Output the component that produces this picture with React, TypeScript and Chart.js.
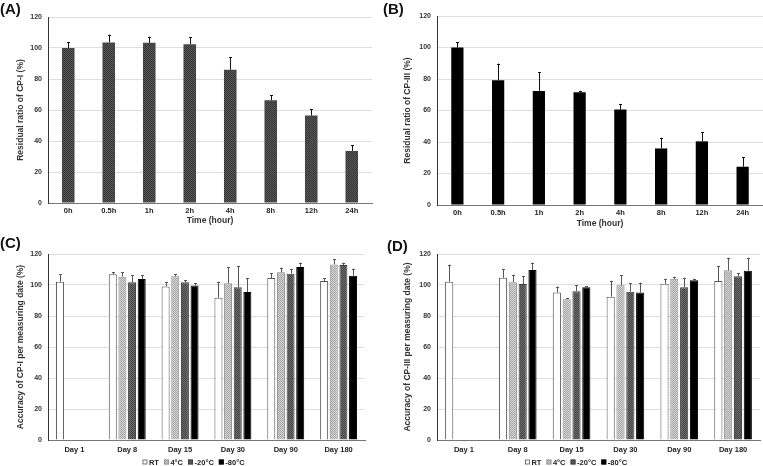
import React, { useEffect, useRef } from 'react';
import { Chart, registerables } from 'chart.js';
Chart.register(...registerables);

const FONT = "'Liberation Sans', Arial, sans-serif";

// ---- Data ----
const timeLabels = ['0h', '0.5h', '1h', '2h', '4h', '8h', '12h', '24h'];
const cp1Residual = [100, 103.6, 103.4, 102.5, 86, 66.3, 56.4, 33.6];
const cp1ResidualSD = [3.9, 5, 3.9, 4.3, 8.2, 3.1, 4.1, 3.6];
const cp3Residual = [100, 79.2, 72.4, 71.6, 60.6, 35.9, 40.4, 24.3];
const cp3ResidualSD = [3.4, 10.6, 11.8, 0.9, 3.6, 6.8, 5.9, 5.9];

const dayLabels = ['Day 1', 'Day 8', 'Day 15', 'Day 30', 'Day 90', 'Day 180'];
const seriesNames = ['RT', '4°C', '-20°C', '-80°C'];

const cp1RT = [102.1, 106.9, 99.1, 91.8, 104.5, 102.6];
const cp1RTSD = [5.0, 1.3, 2.6, 10.3, 3.2, 1.7];
const cp1C4 = [null, 105.4, 105.6, 101.1, 108.2, 113.3];
const cp1C4SD = [null, 2.8, 1.3, 10.3, 3.0, 3.3];
const cp1M20 = [null, 101.7, 101.7, 98.5, 107.3, 112.9];
const cp1M20SD = [null, 4.5, 1.5, 13.8, 2.8, 1.5];
const cp1M80 = [null, 103.9, 99.6, 95.5, 111.6, 106];
const cp1M80SD = [null, 2.6, 1.5, 8.8, 2.8, 4.5];

const cp3RT = [102.1, 104.7, 95.1, 92.5, 100.8, 102.6];
const cp3RTSD = [11, 5.4, 3.9, 10.3, 3.2, 9.7];
const cp3C4 = [null, 101.7, 90.8, 99.8, 104, 109.5];
const cp3C4SD = [null, 4.9, 0.6, 6.4, 1.4, 8.1];
const cp3M20 = [null, 100.6, 96, 95.7, 98.5, 105.6];
const cp3M20SD = [null, 5, 3.8, 5.4, 6.2, 1.9];
const cp3M80 = [null, 109.7, 98.5, 95.1, 103, 109.2];
const cp3M80SD = [null, 4.7, 0.9, 6.4, 1, 8.4];

const yTicksMax = 120;
const yTickStep = 20;

// ---- Helpers ----
function makePattern(ctx: CanvasRenderingContext2D, base: string, dot: string) {
  const c = document.createElement('canvas');
  c.width = 2;
  c.height = 2;
  const x = c.getContext('2d')!;
  x.fillStyle = base;
  x.fillRect(0, 0, 2, 2);
  x.fillStyle = dot;
  x.fillRect(0, 0, 1, 1);
  x.fillRect(1, 1, 1, 1);
  return ctx.createPattern(c, 'repeat') || base;
}

const errorBarPlugin = {
  id: 'errorBars',
  afterDatasetsDraw(chart: any) {
    const ctx = chart.ctx;
    const ys = chart.scales.y;
    chart.data.datasets.forEach((ds: any, i: number) => {
      const errs = ds.errors;
      if (!errs) return;
      const meta = chart.getDatasetMeta(i);
      meta.data.forEach((el: any, j: number) => {
        const v = ds.data[j];
        const e = errs[j];
        if (v == null || e == null) return;
        const top = ys.getPixelForValue(v + e);
        const x = Math.round(el.x) + 0.5;
        ctx.save();
        ctx.strokeStyle = ds.errorColor || '#222';
        ctx.lineWidth = 1;
        ctx.beginPath();
        ctx.moveTo(x, el.y);
        ctx.lineTo(x, top);
        ctx.moveTo(x - 1.5, Math.round(top) + 0.5);
        ctx.lineTo(x + 1.5, Math.round(top) + 0.5);
        ctx.stroke();
        ctx.restore();
      });
    });
  },
};

const legendPlugin = {
  id: 'customLegend',
  afterDraw(chart: any, _args: any, opts: any) {
    if (!opts || !opts.show) return;
    const ctx = chart.ctx;
    ctx.save();
    ctx.font = `bold 7.5px ${FONT}`;
    ctx.textBaseline = 'middle';
    const box = 5;
    const gapText = 1.5;
    const gapItem = 5;
    const items = chart.data.datasets.map((ds: any) => ({
      label: ds.label,
      fill: ds.backgroundColor,
      stroke: ds.borderColor,
      w: ctx.measureText(ds.label).width,
    }));
    let total = 0;
    items.forEach((it: any, i: number) => {
      total += box + gapText + it.w + (i < items.length - 1 ? gapItem : 0);
    });
    let x = opts.cx - total / 2;
    const cy = opts.cy;
    items.forEach((it: any) => {
      ctx.fillStyle = it.fill;
      ctx.fillRect(x, cy - box / 2, box, box);
      ctx.strokeStyle = it.stroke;
      ctx.lineWidth = 0.8;
      ctx.strokeRect(x + 0.5, cy - box / 2 + 0.5, box - 1, box - 1);
      ctx.fillStyle = '#222';
      ctx.fillText(it.label, x + box + gapText, cy + 0.5);
      x += box + gapText + it.w + gapItem;
    });
    ctx.restore();
  },
};

function yScale(title: string, width: number) {
  return {
    min: 0,
    max: yTicksMax,
    ticks: {
      stepSize: yTickStep,
      font: { family: FONT, size: 7, weight: 'bold' },
      color: '#333',
      padding: 6,
    },
    grid: { color: '#dedede', drawTicks: false, lineWidth: 1 },
    border: { display: true, color: '#333', width: 1 },
    title: {
      display: true,
      text: title,
      font: { family: FONT, size: 8.5, weight: 'bold' },
      color: '#333',
      padding: { top: 0, bottom: 0 },
    },
    afterFit: (s: any) => {
      s.width = width;
    },
  };
}

function xScale(height: number, title: string | null, pad: number) {
  return {
    ticks: {
      font: { family: FONT, size: 7.5, weight: 'bold' },
      color: '#222',
      padding: pad,
      autoSkip: false,
      maxRotation: 0,
    },
    grid: { display: false, drawTicks: false },
    border: { display: true, color: '#777', width: 1 },
    title: title
      ? {
          display: true,
          text: title,
          font: { family: FONT, size: 8.5, weight: 'bold' },
          color: '#333',
          padding: { top: 0, bottom: 0 },
        }
      : { display: false },
    afterFit: (s: any) => {
      s.height = height;
    },
  };
}

function timeConfig(ctx: CanvasRenderingContext2D, which: 'A' | 'B') {
  const isA = which === 'A';
  const fill = isA ? makePattern(ctx, '#555555', '#383838') : '#000000';
  return {
    type: 'bar',
    data: {
      labels: timeLabels,
      datasets: [
        {
          label: isA ? 'CP-I' : 'CP-III',
          data: isA ? cp1Residual : cp3Residual,
          errors: isA ? cp1ResidualSD : cp3ResidualSD,
          backgroundColor: fill,
          borderColor: isA ? '#333' : '#000',
          borderWidth: 0,
          barPercentage: isA ? 0.31 : 0.3,
          categoryPercentage: 1,
          errorColor: '#111',
        },
      ],
    },
    options: {
      responsive: false,
      animation: false,
      layout: isA
        ? { padding: { left: 16, right: 9, top: 17, bottom: 4 } }
        : { padding: { left: 20, right: 0, top: 16, bottom: 3 } },
      plugins: { legend: { display: false }, tooltip: { enabled: false } },
      scales: {
        x: xScale(isA ? 23 : 24, 'Time (hour)', 3),
        y: yScale(isA ? 'Residual ratio of CP-I (%)' : 'Residual ratio of CP-III (%)', isA ? 32 : 34),
      },
    },
    plugins: [errorBarPlugin],
  };
}

function dayConfig(ctx: CanvasRenderingContext2D, which: 'C' | 'D', canvasW: number) {
  const isC = which === 'C';
  const fills = [
    '#ffffff',
    makePattern(ctx, '#d2d2d2', '#a9a9a9'),
    makePattern(ctx, '#6a6a6a', '#474747'),
    '#000000',
  ];
  const borders = ['#555', '#8a8a8a', '#3a3a3a', '#000'];
  const vals = isC ? [cp1RT, cp1C4, cp1M20, cp1M80] : [cp3RT, cp3C4, cp3M20, cp3M80];
  const sds = isC ? [cp1RTSD, cp1C4SD, cp1M20SD, cp1M80SD] : [cp3RTSD, cp3C4SD, cp3M20SD, cp3M80SD];
  return {
    type: 'bar',
    data: {
      labels: dayLabels,
      datasets: seriesNames.map((name, i) => ({
        label: name,
        data: vals[i],
        errors: sds[i],
        backgroundColor: fills[i],
        borderColor: borders[i],
        borderWidth: 1,
        barPercentage: 0.83,
        categoryPercentage: 0.73,
        errorColor: '#555',
      })),
    },
    options: {
      responsive: false,
      animation: false,
      layout: isC
        ? { padding: { left: 16, right: 16, top: 22, bottom: 0 } }
        : { padding: { left: 20, right: 3, top: 22, bottom: 0 } },
      plugins: {
        legend: { display: false },
        tooltip: { enabled: false },
        customLegend: { show: true, cx: canvasW / 2 + 3, cy: 230 },
      },
      scales: {
        x: xScale(26, null, 5),
        y: yScale(
          isC ? 'Accuracy of CP-I per measuring date (%)' : 'Accuracy of CP-III per measuring date (%)',
          isC ? 32 : 34
        ),
      },
    },
    plugins: [errorBarPlugin, legendPlugin],
  };
}

function Panel(props: { left: number; top: number; width: number; height: number; build: (ctx: CanvasRenderingContext2D, w: number) => any }) {
  const ref = useRef<HTMLCanvasElement>(null);
  useEffect(() => {
    const canvas = ref.current!;
    const ctx = canvas.getContext('2d')!;
    const chart = new Chart(canvas, props.build(ctx, props.width));
    return () => chart.destroy();
  }, []);
  return (
    <canvas
      ref={ref}
      width={props.width}
      height={props.height}
      style={{ position: 'absolute', left: props.left, top: props.top, width: props.width, height: props.height }}
    />
  );
}

const labelStyle = (left: number, top: number): React.CSSProperties => ({
  position: 'absolute',
  left,
  top,
  font: `bold 15px ${FONT}`,
  color: '#111',
  lineHeight: '15px',
});

export default function App() {
  return (
    <div style={{ position: 'fixed', left: 0, top: 0, width: 763, height: 466, background: '#fff', overflow: 'hidden' }}>
      <Panel left={0} top={0} width={381} height={230} build={(ctx) => timeConfig(ctx, 'A')} />
      <Panel left={383} top={0} width={380} height={232} build={(ctx) => timeConfig(ctx, 'B')} />
      <Panel left={0} top={232} width={381} height={234} build={(ctx, w) => dayConfig(ctx, 'C', w)} />
      <Panel left={383} top={232} width={380} height={234} build={(ctx, w) => dayConfig(ctx, 'D', w)} />
      <div style={labelStyle(0, 1)}>(A)</div>
      <div style={labelStyle(383, 1)}>(B)</div>
      <div style={labelStyle(0, 235)}>(C)</div>
      <div style={labelStyle(387, 238)}>(D)</div>
    </div>
  );
}
